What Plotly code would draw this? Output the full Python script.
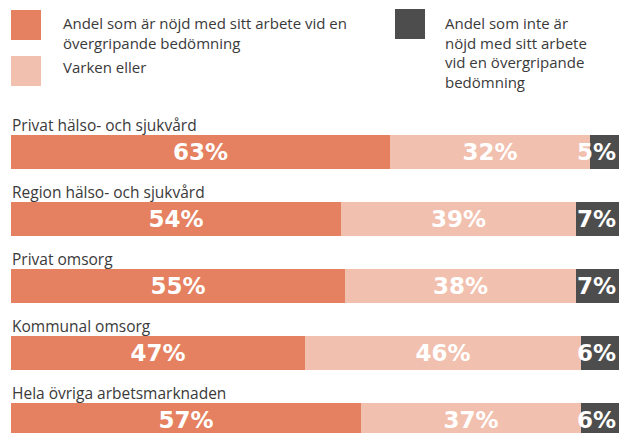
import plotly.graph_objects as go

categories = ["Privat hälso- och sjukvård", "Region hälso- och sjukvård", "Privat omsorg",
              "Kommunal omsorg", "Hela övriga arbetsmarknaden"]
nojd = [62.3, 54.3, 54.9, 48.4, 57.6]
varken = [32.9, 38.6, 38.0, 45.4, 36.2]
inte_nojd = [4.8, 7.1, 7.1, 6.2, 6.2]
nojd_labels = ["63%", "54%", "55%", "47%", "57%"]
varken_labels = ["32%", "39%", "38%", "46%", "37%"]
inte_labels = ["5%", "7%", "7%", "6%", "6%"]

series_names = ["Andel som är nöjd med sitt arbete vid en<br>övergripande bedömning",
                "Varken eller",
                "Andel som inte är<br>nöjd med sitt arbete<br>vid en övergripande<br>bedömning"]
colors = ["#E58160", "#F2C0AE", "#4D4D4D"]

W, H = 619, 442
ML, MR, MT, MB = 11, 0, 100, 0
PW, PH = W - ML - MR, H - MT - MB
ROW_PX = 67
FIRST_CENTER = 152

def px_x(px):
    return (px - ML) / PW

def px_y(py):
    return (H - MB - py) / PH

ypos = list(range(len(categories)))
y_top = -(FIRST_CENTER - MT) / ROW_PX
y_bot = y_top + PH / ROW_PX

bar_font = dict(family="DejaVu Sans", size=23, color="white", weight="bold")

fig = go.Figure()
for vals, labels, color, anchor in [(nojd, nojd_labels, colors[0], "middle"),
                                    (varken, varken_labels, colors[1], "middle"),
                                    (inte_nojd, inte_labels, colors[2], "end")]:
    fig.add_trace(go.Bar(
        x=vals, y=ypos, orientation="h", width=34 / ROW_PX,
        marker=dict(color=color, line=dict(width=0)),
        text=labels, textposition="inside", insidetextanchor=anchor,
        textangle=0, constraintext="none", insidetextfont=bar_font, textfont=bar_font,
        cliponaxis=False, hoverinfo="skip", showlegend=False,
    ))

annotations = []
for i, cat in enumerate(categories):
    annotations.append(dict(
        x=0, y=i - 27 / ROW_PX, xref="x", yref="y", text=cat, showarrow=False,
        xanchor="left", yanchor="middle", xshift=-1,
        font=dict(family="Open Sans", size=15.5, color="#3A3A3A"),
    ))

# Legend built from shapes + text
legend_items = [
    (series_names[0], colors[0], 11, 10, 61, 11, "top"),
    (series_names[1], colors[1], 11, 56, 61, 67, "middle"),
    (series_names[2], colors[2], 395, 9, 443, 11, "top"),
]
shapes = []
for name, color, sx, sy, tx, ty, ya in legend_items:
    shapes.append(dict(type="rect", xref="paper", yref="paper",
                       x0=px_x(sx), x1=px_x(sx + 30), y0=px_y(sy), y1=px_y(sy + 30),
                       fillcolor=color, line=dict(width=0)))
    annotations.append(dict(
        x=px_x(tx), y=px_y(ty), xref="paper", yref="paper", text=name,
        showarrow=False, xanchor="left", yanchor=ya, align="left",
        font=dict(family="Open Sans", size=15, color="#3A3A3A"),
    ))

fig.update_layout(
    width=W, height=H, barmode="stack", bargap=0,
    margin=dict(l=ML, r=MR, t=MT, b=MB),
    paper_bgcolor="white", plot_bgcolor="white",
    xaxis=dict(range=[0, 100.02], visible=False, fixedrange=True),
    yaxis=dict(range=[y_bot, y_top], visible=False, fixedrange=True),
    annotations=annotations, shapes=shapes,
)
fig.write_html("out.html", config={"displayModeBar": False},
               post_script="document.body.style.margin='0';document.body.style.overflow='hidden';")
